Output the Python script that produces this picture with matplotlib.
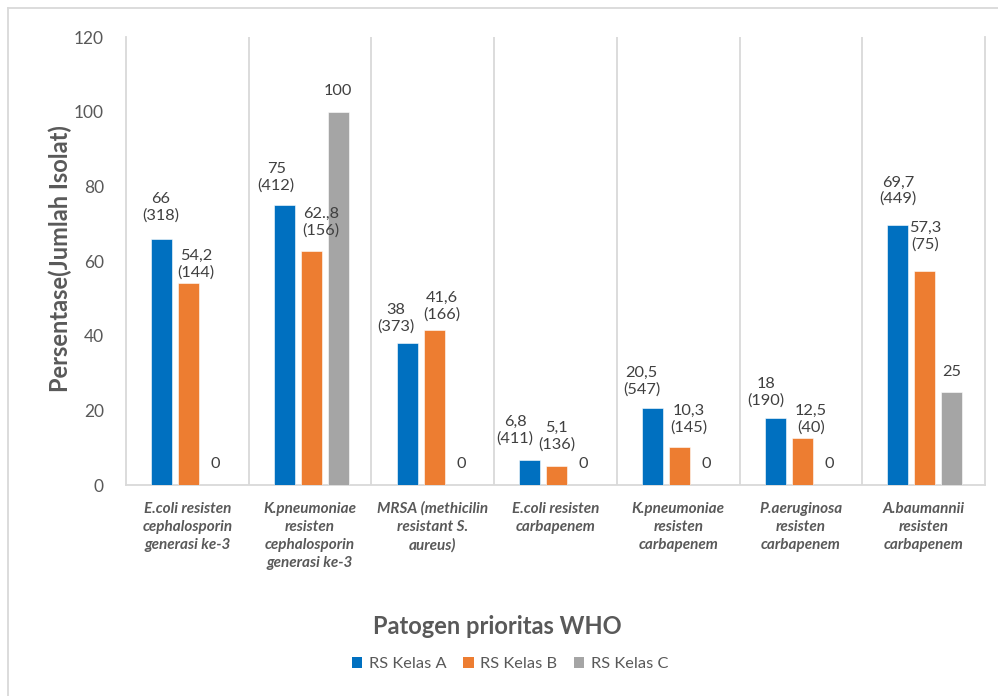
import matplotlib
matplotlib.use("Agg")
import matplotlib.pyplot as plt
from matplotlib.lines import Line2D
from matplotlib.patches import Patch
import numpy as np

plt.rcParams['font.family'] = ['Lato', 'DejaVu Sans']

categories = [
    "E.coli resisten\ncephalosporin\ngenerasi ke-3",
    "K.pneumoniae\nresisten\ncephalosporin\ngenerasi ke-3",
    "MRSA (methicilin\nresistant S.\naureus)",
    "E.coli resisten\ncarbapenem",
    "K.pneumoniae\nresisten\ncarbapenem",
    "P.aeruginosa\nresisten\ncarbapenem",
    "A.baumannii\nresisten\ncarbapenem",
]
series_names = ["RS Kelas A", "RS Kelas B", "RS Kelas C"]
kelas_a = [66, 75, 38, 6.8, 20.5, 18, 69.7]
kelas_b = [54.2, 62.8, 41.6, 5.1, 10.3, 12.5, 57.3]
kelas_c = [0, 100, 0, 0, 0, 0, 25]
labels_a = ["66\n(318)", "75\n(412)", "38\n(373)", "6,8\n(411)", "20,5\n(547)", "18\n(190)", "69,7\n(449)"]
labels_b = ["54,2\n(144)", "62.,8\n(156)", "41,6\n(166)", "5,1\n(136)", "10,3\n(145)", "12,5\n(40)", "57,3\n(75)"]
labels_c = ["0", "100", "0", "0", "0", "0", "25"]
y_ticks = [0, 20, 40, 60, 80, 100, 120]

colors = ["#0070C0", "#ED7D31", "#A5A5A5"]
# label offsets in pixels (dx, dy up to label centre)
off_a = [(-0.5, 31), (-8, 27.5), (-11, 24.6), (-14.5, 29), (-11, 27), (-9.5, 25), (0, 34)]
off_b = [(7.5, 18), (9.5, 28), (7.5, 23.7), (0, 30), (9.5, 27), (8.5, 19), (0, 34.6)]
off_c = [(0, 21), (0, 21), (0, 21), (0, 21), (0, 21), (0, 21), (0, 20)]

W, H = 998, 696
fig = plt.figure(figsize=(W / 100, H / 100), dpi=100)
ax = fig.add_axes([126 / W, 1 - 485 / H, (985 - 126) / W, (485 - 37) / H])

x = np.arange(len(categories))
bw = 0.171
step = 0.22
shift = 0.01
txtc = "#404040"
for i, (vals, labs, offs) in enumerate(zip([kelas_a, kelas_b, kelas_c],
                                           [labels_a, labels_b, labels_c],
                                           [off_a, off_b, off_c])):
    xs = x + (i - 1) * step + shift
    ax.bar(xs, vals, width=bw, color=colors[i], edgecolor='white', linewidth=0.4,
           label=series_names[i], zorder=3)
    for xx, v, lab, (dx, dy) in zip(xs, vals, labs, offs):
        ax.annotate(lab, (xx, v), xytext=(dx, dy), textcoords='offset pixels',
                    ha='center', va='center', fontsize=11.8, color=txtc,
                    linespacing=1.2, zorder=10)

ax.set_xlim(-0.5, len(categories) - 0.5)
ax.set_ylim(0, 120)
ax.set_yticks(y_ticks)
ax.set_yticklabels([str(t) for t in y_ticks], fontsize=12.5, color="#595959")
ax.tick_params(axis='y', length=0, pad=16)
ax.set_xticks(x)
ax.set_xticklabels(categories, fontsize=11, color="#595959", fontweight='bold',
                   fontstyle='italic', linespacing=1.38, va='top')
ax.tick_params(axis='x', length=0, pad=12)

grid_c = "#D9D9D9"
for b in np.arange(0.5, len(categories) - 0.5, 1):
    ax.axvline(b, color=grid_c, lw=1.3, zorder=1)
for s in ['left', 'right', 'bottom']:
    ax.spines[s].set_color(grid_c)
    ax.spines[s].set_linewidth(1.3)
ax.spines['top'].set_visible(False)

fig.text(60 / W, 1 - 259 / H, "Persentase(Jumlah Isolat)", rotation=90,
         ha='center', va='center', fontsize=17, fontweight='bold', color="#595959")
fig.text(497 / W, 1 - 627 / H, "Patogen prioritas WHO", ha='center', va='center',
         fontsize=17, fontweight='bold', color="#595959")

handles = [Patch(facecolor=c, edgecolor='none') for c in colors]
fig.legend(handles, series_names, loc='center', bbox_to_anchor=(510 / W, 1 - 664 / H),
           ncol=3, frameon=False, fontsize=11.8, handlelength=0.65, handleheight=0.65,
           handletextpad=0.4, columnspacing=1.0, labelcolor="#595959")

fig.add_artist(Line2D([8 / W, 8 / W], [0, 1 - 8 / H], color=grid_c, lw=1.3))
fig.add_artist(Line2D([8 / W, 1], [1 - 8 / H, 1 - 8 / H], color=grid_c, lw=1.3))

fig.savefig("out.png", dpi=100)
